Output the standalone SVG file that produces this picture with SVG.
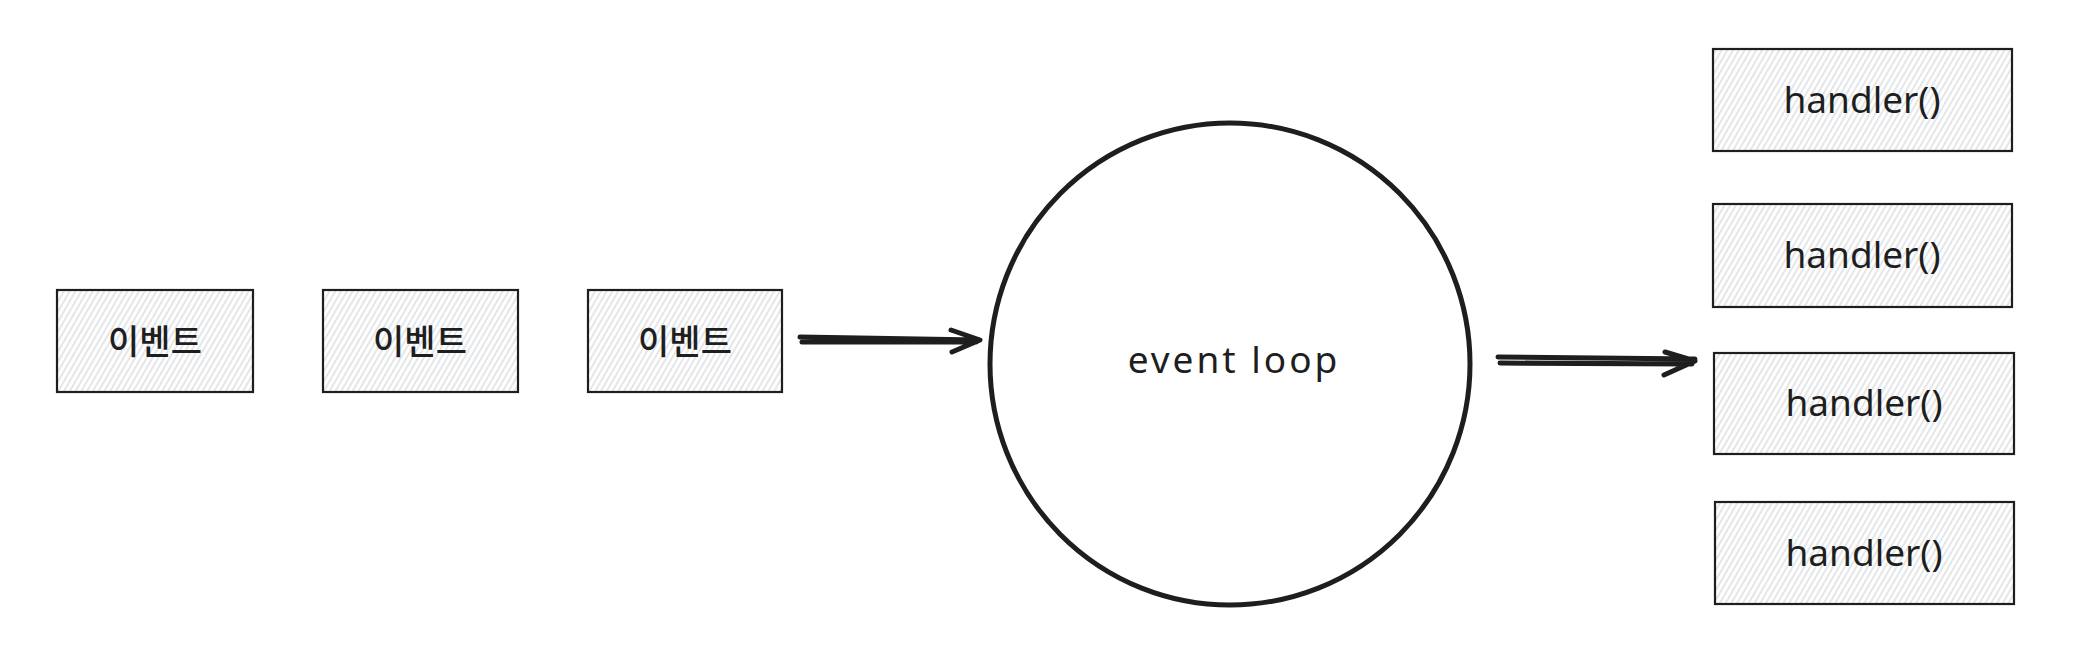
<svg xmlns="http://www.w3.org/2000/svg" width="2074" height="664" viewBox="0 0 2074 664">
<defs>
<pattern id="hatch" width="5" height="10" patternUnits="userSpaceOnUse" patternTransform="rotate(30)">
<line x1="1" y1="0" x2="1" y2="10" stroke="#c9cdd2" stroke-width="1"/>
</pattern>
</defs>
<style>
.box{fill:url(#hatch);stroke:#1e1e1e;stroke-width:2.2}
.kr{font-family:"Noto Sans CJK KR","Noto Sans",sans-serif;font-size:34px;font-weight:500;fill:#1e1e1e;text-anchor:middle;dominant-baseline:central}
.en{font-family:"Noto Sans","Liberation Sans",sans-serif;font-size:37px;fill:#1e1e1e;text-anchor:middle;dominant-baseline:central}
.arrow{fill:none;stroke:#1e1e1e;stroke-width:5;stroke-linecap:round;stroke-linejoin:round}
</style>
<rect width="2074" height="664" fill="#ffffff"/>
<g id="event1"><rect class="box" x="57" y="290" width="196" height="102"/><text class="kr" x="155" y="339">이벤트</text></g>
<g id="event2"><rect class="box" x="323" y="290" width="195" height="102"/><text class="kr" x="420" y="339">이벤트</text></g>
<g id="event3"><rect class="box" x="588" y="290" width="194" height="102"/><text class="kr" x="685" y="339">이벤트</text></g>
<g id="eventloop"><ellipse cx="1230" cy="364" rx="240" ry="241" fill="#ffffff" stroke="#1e1e1e" stroke-width="5"/><text class="en" x="1234" y="358" font-size="46px" letter-spacing="3">event loop</text></g>
<g id="handler1"><rect class="box" x="1713" y="49" width="299" height="102"/><text class="en" x="1862" y="98">handler()</text></g>
<g id="handler2"><rect class="box" x="1713" y="204" width="299" height="103"/><text class="en" x="1862" y="253">handler()</text></g>
<g id="handler3"><rect class="box" x="1714" y="353" width="300" height="101"/><text class="en" x="1864" y="401">handler()</text></g>
<g id="handler4"><rect class="box" x="1715" y="502" width="299" height="102"/><text class="en" x="1864" y="551">handler()</text></g>
<g id="connectors">
<path class="arrow" d="M800 337 L978 340 M802 342 L976 342 M951 330 L980 340 L952 352"/>
<path class="arrow" d="M1498 357 L1695 359 M1500 363 L1692 364 M1665 352 L1695 361 L1664 375"/>
</g>
</svg>
